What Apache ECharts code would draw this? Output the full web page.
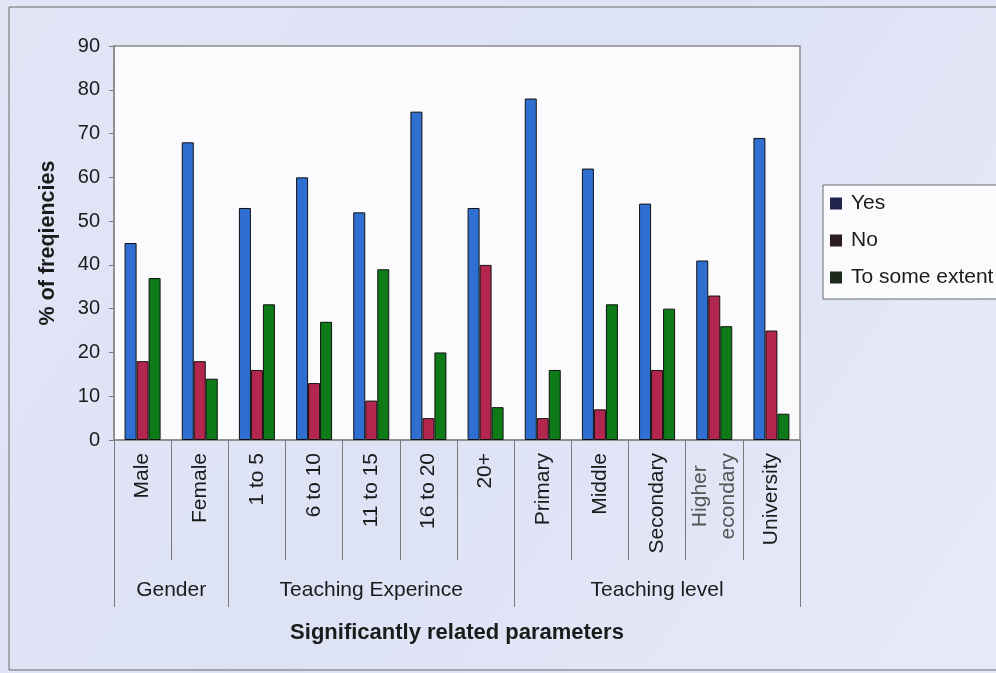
<!DOCTYPE html>
<html>
<head>
<meta charset="utf-8">
<script src="https://cdn.jsdelivr.net/npm/echarts@6/dist/echarts.min.js"></script>
<style>
  html, body { margin: 0; padding: 0; background: #e1e4f6; }
  #chart { width: 996px; height: 673px; }
</style>
</head>
<body>
<div id="chart"></div>
<script>
// Survey responses by respondent parameter (% of frequencies)
const categories = ['Male', 'Female', '1 to 5', '6 to 10', '11 to 15', '16 to 20', '20+',
  'Primary', 'Middle', 'Secondary', 'Higher\necondary', 'University'];
const yesValues  = [45, 68, 53, 60, 52, 75, 53, 78, 62, 54, 41, 69];
const noValues   = [18, 18, 16, 13, 9, 5, 40, 5, 7, 16, 33, 25];
const someValues = [37, 14, 31, 27, 39, 20, 7.5, 16, 31, 30, 26, 6];

const groupNames = ['Gender', 'Teaching Experince', 'Teaching level'];
const groupSizes = [2, 5, 5];

const yMin = 0, yMax = 90, yStep = 10;

// Group axis runs on half-category steps so separators sit on category
// boundaries and group names sit at the middle of each span.
const halfSlots = [];
for (let i = 0; i <= categories.length * 2; i++) halfSlots.push('');
const groupBoundaryIdx = [];
const groupCenterIdx = [];
let start = 0;
groupSizes.forEach((size, g) => {
  groupBoundaryIdx.push(start * 2);
  groupCenterIdx.push(start * 2 + size);
  halfSlots[start * 2 + size] = groupNames[g];
  start += size;
});
groupBoundaryIdx.push(start * 2);

const textColor = '#1b1b1b';
const fontFamily = 'Liberation Sans, Arial, sans-serif';

const chart = echarts.init(document.getElementById('chart'), null, { renderer: 'canvas' });

chart.setOption({
  backgroundColor: {
    type: 'linear', x: 0, y: 0, x2: 1, y2: 1,
    colorStops: [
      { offset: 0, color: '#e2e5f6' },
      { offset: 0.5, color: '#dde2f5' },
      { offset: 1, color: '#e7eaf8' }
    ]
  },
  textStyle: { fontFamily: fontFamily },
  graphic: [{
    type: 'rect',
    shape: { x: 9, y: 7, width: 1000, height: 663 },
    style: { fill: 'none', stroke: '#6a6a6a', lineWidth: 1 },
    silent: true
  }],
  grid: {
    left: 114, right: 196, top: 46, bottom: 233,
    show: true,
    backgroundColor: '#fbfbfe',
    borderColor: '#8a8a8a',
    borderWidth: 1.5
  },
  legend: {
    orient: 'vertical',
    left: 823, top: 185,
    backgroundColor: '#fbfbfe',
    borderColor: '#6a6a6a',
    borderWidth: 1,
    padding: [8, 80, 11, 7],
    itemWidth: 10, itemHeight: 10,
    itemGap: 16,
    icon: 'rect',
    textStyle: { fontSize: 21, color: textColor, padding: [0, 0, 0, 5] },
    data: [
      { name: 'Yes', itemStyle: { color: '#20244f', borderColor: '#20244f' } },
      { name: 'No', itemStyle: { color: '#2a1c20', borderColor: '#2a1c20' } },
      { name: 'To some extent', itemStyle: { color: '#1c2a1e', borderColor: '#1c2a1e' } }
    ]
  },
  xAxis: [
    {
      type: 'category',
      data: categories,
      position: 'bottom',
      axisLine: { show: true, lineStyle: { color: '#8a8a8a', width: 1.5 } },
      axisTick: { show: true, length: 120, interval: 0, lineStyle: { color: '#7a7a7a' } },
      axisLabel: {
        interval: 0,
        rotate: 90,
        margin: 13,
        fontSize: 21,
        color: textColor,
        formatter: (v) => v.indexOf('\n') >= 0
          ? v.split('\n').map((s) => '{c|' + s + '}').join('\n')
          : v,
        rich: { c: { align: 'center', fontSize: 21, color: '#555', lineHeight: 28 } }
      }
    },
    {
      type: 'category',
      data: halfSlots,
      position: 'bottom',
      boundaryGap: false,
      axisLine: { show: false },
      axisTick: {
        show: true, length: 167,
        interval: (idx) => groupBoundaryIdx.indexOf(idx) >= 0,
        lineStyle: { color: '#7a7a7a' }
      },
      axisLabel: {
        interval: (idx) => groupCenterIdx.indexOf(idx) >= 0,
        margin: 140,
        fontSize: 21,
        color: textColor
      },
      name: 'Significantly related parameters',
      nameLocation: 'middle',
      nameGap: 182,
      nameTextStyle: { fontSize: 22, fontWeight: 'bold', color: textColor }
    }
  ],
  yAxis: {
    type: 'value',
    min: yMin, max: yMax, interval: yStep,
    axisLine: { show: true, lineStyle: { color: '#8a8a8a', width: 1.5 } },
    axisTick: { show: true, inside: false, length: 5, lineStyle: { color: '#7a7a7a' } },
    splitLine: { show: false },
    axisLabel: { fontSize: 20, color: textColor, margin: 14 },
    name: '% of freqiencies',
    nameLocation: 'middle',
    nameGap: 55,
    nameRotate: 90,
    nameTextStyle: { fontSize: 21.5, fontWeight: 'bold', color: textColor }
  },
  series: [
    {
      name: 'Yes', type: 'bar', xAxisIndex: 0, data: yesValues,
      barWidth: 12, barGap: '0%',
      itemStyle: { color: '#2f6fd2', borderColor: '#111', borderWidth: 1 }
    },
    {
      name: 'No', type: 'bar', xAxisIndex: 0, data: noValues,
      barWidth: 12, barGap: '0%',
      itemStyle: { color: '#b3264d', borderColor: '#111', borderWidth: 1 }
    },
    {
      name: 'To some extent', type: 'bar', xAxisIndex: 0, data: someValues,
      barWidth: 12, barGap: '0%',
      itemStyle: { color: '#0e7a18', borderColor: '#111', borderWidth: 1 }
    }
  ],
  animation: false
});
</script>
</body>
</html>
